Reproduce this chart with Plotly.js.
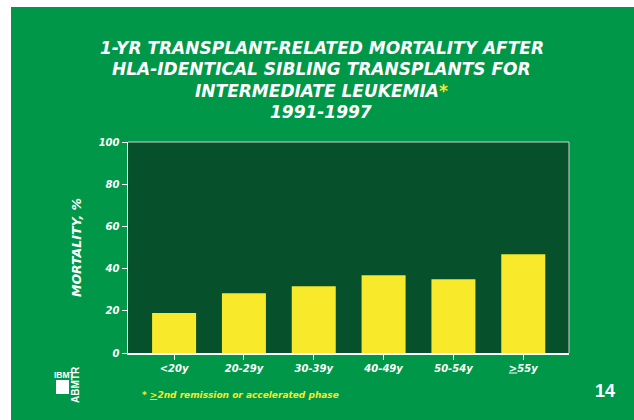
<!DOCTYPE html>
<html>
<head>
<meta charset="utf-8">
<script src="https://cdn.plot.ly/plotly-3.0.1.min.js"></script>
<style>
html,body{margin:0;padding:0;background:#ffffff;width:634px;height:420px;overflow:hidden;}
#chart{position:absolute;left:11px;top:7px;width:623px;height:413px;}
</style>
</head>
<body>
<div id="chart"></div>
<script>
// ---- data ----
const categories = ["<20y", "20-29y", "30-39y", "40-49y", "50-54y", ">=55y"];
const tickLabels = ["&lt;20y", "20-29y", "30-39y", "40-49y", "50-54y", "<u>&gt;</u>55y"];
const mortality = [19, 28.3, 31.6, 36.8, 34.9, 46.8];
const yTicks = [0, 20, 40, 60, 80, 100];
const titleLines = ["1-YR TRANSPLANT-RELATED MORTALITY AFTER", "HLA-IDENTICAL SIBLING TRANSPLANTS FOR", "INTERMEDIATE LEUKEMIA<span style='color:#F8EA2A'>*</span>", "1991-1997"];
const yTitle = "MORTALITY, %";
const footnote = "* <u>&gt;</u>2nd remission or accelerated phase";
const pageNumber = "14";

// ---- layout helpers (page px -> paper fraction) ----
const DIV_L = 11, DIV_T = 7, M = {l:117, r:65, t:135, b:67};
const W = 623, H = 413;
const PW = W - M.l - M.r, PH = H - M.t - M.b;
function px(x){ return (x - DIV_L - M.l) / PW; }
function py(y){ return (H - M.b - (y - DIV_T)) / PH; }

const FONT = "'DejaVu Sans', 'Liberation Sans', Arial, sans-serif";
const ARIAL = "'Liberation Sans', Arial, sans-serif";
const WHITE = "#ffffff";
const YELLOW = "#F8EA2A";

const trace = {
  type: "bar",
  x: categories,
  y: mortality,
  width: 0.63,
  marker: {color: YELLOW, line: {width: 0}},
  hoverinfo: "none"
};

const titleY = [48, 69.5, 90.5, 112];
const titleX = [322, 321, 321, 321];
const titleAnns = titleLines.map((t, i) => ({
  xref: "paper", yref: "paper", x: px(titleX[i]), y: py(titleY[i]),
  xanchor: "center", yanchor: "middle", showarrow: false,
  text: "<b><i>" + t + "</i></b>", font: {family: FONT, size: 17, color: WHITE}
}));

const layout = {
  width: W, height: H,
  margin: M,
  paper_bgcolor: "#009848",
  plot_bgcolor: "#06502C",
  showlegend: false,
  xaxis: {
    type: "category",
    range: [-0.66, 5.655],
    tickvals: categories,
    ticktext: tickLabels.map(t => "<b><i>" + t + "</i></b>"),
    tickfont: {family: FONT, size: 10, color: WHITE},
    ticks: "outside", ticklen: 5, tickwidth: 1, tickcolor: WHITE,
    showline: true, linecolor: WHITE, linewidth: 1.5,
    showgrid: false, zeroline: false, fixedrange: true
  },
  yaxis: {
    range: [0, 100],
    tickvals: yTicks,
    ticktext: yTicks.map(v => "<b><i>" + v + "</i></b>"),
    tickfont: {family: FONT, size: 10, color: WHITE},
    ticks: "outside", ticklen: 5, tickwidth: 1, tickcolor: WHITE,
    showline: true, linecolor: WHITE, linewidth: 1.5,
    showgrid: false, zeroline: false, fixedrange: true,
    title: {text: "<b><i>" + yTitle + "</i></b>", font: {family: FONT, size: 12.5, color: WHITE}, standoff: 14}
  },
  shapes: [
    {type: "line", xref: "paper", yref: "paper", x0: 0, x1: 1, y0: 1, y1: 1, line: {color: "#C9D6CC", width: 1}},
    {type: "line", xref: "paper", yref: "paper", x0: 1, x1: 1, y0: 0, y1: 1, line: {color: "#C9D6CC", width: 1}},
    {type: "rect", xref: "paper", yref: "paper", x0: px(56), x1: px(69), y0: py(394), y1: py(380), line: {width: 0}, fillcolor: WHITE}
  ],
  annotations: titleAnns.concat([
    {xref: "paper", yref: "paper", x: px(140), y: py(395), xanchor: "left", yanchor: "middle", showarrow: false,
     text: "<b><i>" + footnote + "</i></b>", font: {family: FONT, size: 9, color: YELLOW}},
    {xref: "paper", yref: "paper", x: px(605), y: py(391), xanchor: "center", yanchor: "middle", showarrow: false,
     text: "<b>" + pageNumber + "</b>", font: {family: ARIAL, size: 18, color: WHITE}},
    {xref: "paper", yref: "paper", x: px(52), y: py(375), xanchor: "left", yanchor: "middle", showarrow: false,
     text: "<b>IBMT</b>", font: {family: ARIAL, size: 8.5, color: WHITE}},
    {xref: "paper", yref: "paper", x: px(75), y: py(385), xanchor: "center", yanchor: "middle", showarrow: false, textangle: -90,
     text: "<b>ABMTR</b>", font: {family: ARIAL, size: 10, color: WHITE}}
  ])
};

Plotly.newPlot("chart", [trace], layout, {staticPlot: true, displayModeBar: false});
</script>
</body>
</html>
